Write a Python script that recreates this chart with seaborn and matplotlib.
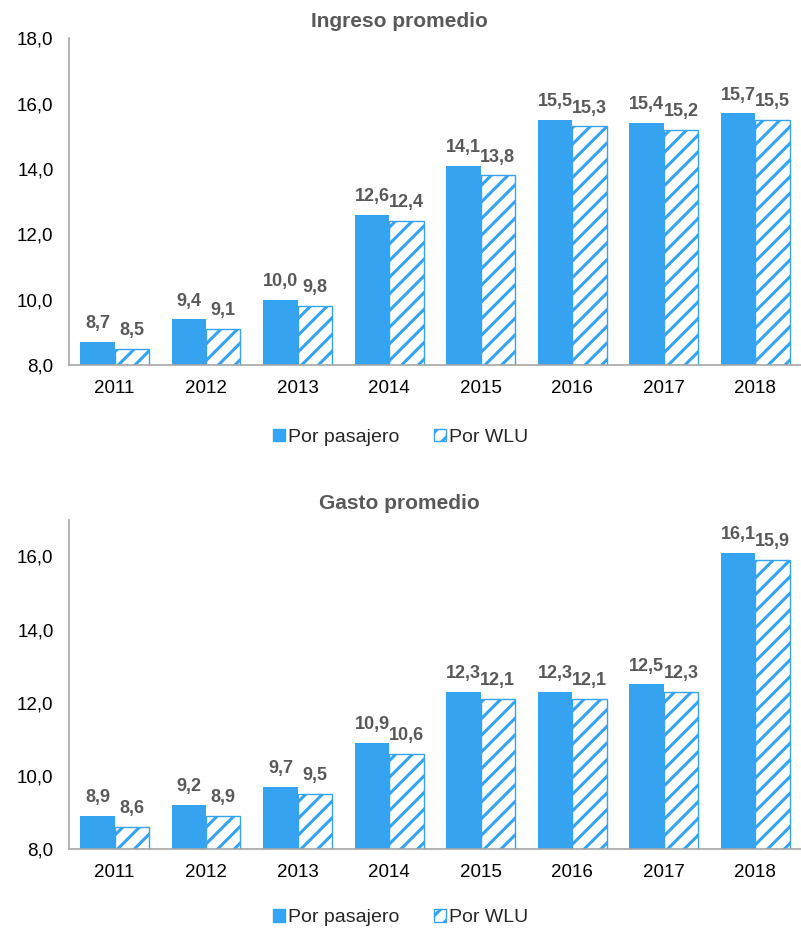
import numpy as np
import pandas as pd
import seaborn as sns
import matplotlib.pyplot as plt
from matplotlib.patches import Patch

# -------------------------------
# Data
# -------------------------------
years = ["2011", "2012", "2013", "2014", "2015", "2016", "2017", "2018"]
series = ["Por pasajero", "Por WLU"]

ingreso_pasajero = [8.7, 9.4, 10.0, 12.6, 14.1, 15.5, 15.4, 15.7]
ingreso_wlu = [8.5, 9.1, 9.8, 12.4, 13.8, 15.3, 15.2, 15.5]

gasto_pasajero = [8.9, 9.2, 9.7, 10.9, 12.3, 12.3, 12.5, 16.1]
gasto_wlu = [8.6, 8.9, 9.5, 10.6, 12.1, 12.1, 12.3, 15.9]

blue = "#35A3EF"
gray_text = "#595959"

sns.set_theme(style="white")
plt.rcParams["font.family"] = ["Liberation Sans", "DejaVu Sans"]
plt.rcParams["hatch.linewidth"] = 2.2


def make_df(a, b):
    return pd.DataFrame({
        "year": years * 2,
        "serie": [series[0]] * len(years) + [series[1]] * len(years),
        "valor": a + b,
    })


def draw(ax, a, b, title, ylim, yticks):
    df = make_df(a, b)
    sns.barplot(data=df, x="year", y="valor", hue="serie", hue_order=series,
                palette=[blue, blue], width=0.75, ax=ax, legend=False,
                saturation=1, linewidth=0)
    # second series: white face with blue stripes
    for bar in ax.containers[1]:
        bar.set_facecolor("white")
        bar.set_edgecolor(blue)
        bar.set_hatch("//")
        bar.set_linewidth(1.0)

    for cont in ax.containers:
        labels = [f"{v:.1f}".replace(".", ",") for v in cont.datavalues]
        ax.bar_label(cont, labels=labels, padding=7, fontsize=13,
                     fontweight="bold", color=gray_text)

    ax.set_ylim(*ylim)
    ax.set_yticks(yticks)
    ax.set_yticklabels([f"{t:.1f}".replace(".", ",") for t in yticks])
    ax.set_xlim(-0.5, len(years) - 0.5)
    ax.set_xlabel("")
    ax.set_ylabel("")
    # title centred on the figure, not the axes
    ax.set_title(title, x=0.451, fontsize=15, fontweight="bold",
                 color=gray_text, pad=8)
    ax.tick_params(axis="both", labelsize=13.5, colors="black", length=0, pad=11)
    for s in ["top", "right"]:
        ax.spines[s].set_visible(False)
    for s in ["left", "bottom"]:
        ax.spines[s].set_color("#A6A6A6")
        ax.spines[s].set_linewidth(1.2)


fig = plt.figure(figsize=(8.01, 9.30), dpi=100)
ax1 = fig.add_axes([0.086, 0.6075, 0.914, 0.3515])
ax2 = fig.add_axes([0.086, 0.0871, 0.914, 0.354])

draw(ax1, ingreso_pasajero, ingreso_wlu, "Ingreso promedio",
     (8, 18), [8, 10, 12, 14, 16, 18])
draw(ax2, gasto_pasajero, gasto_wlu, "Gasto promedio",
     (8, 17), [8, 10, 12, 14, 16])

handles = [Patch(facecolor=blue, edgecolor=blue, label=series[0]),
           Patch(facecolor="white", edgecolor=blue, hatch="//", label=series[1])]

for y in [0.53, 0.013]:
    fig.legend(handles=handles, loc="center", bbox_to_anchor=(0.5, y), ncol=2,
               frameon=False, fontsize=14, handlelength=0.6, handleheight=0.6,
               handletextpad=0.15, columnspacing=1.8)

fig.savefig("out.png", dpi=100)
